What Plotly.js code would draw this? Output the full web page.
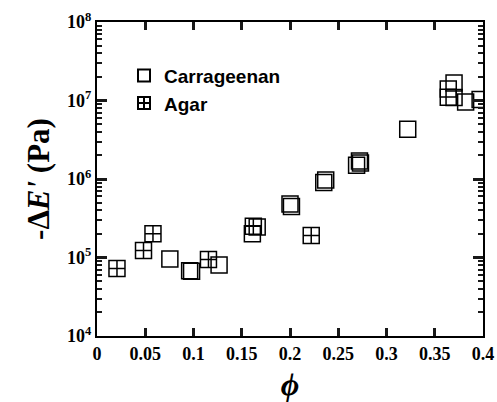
<!DOCTYPE html>
<html>
<head>
<meta charset="utf-8">
<script src="https://cdn.plot.ly/plotly-3.0.1.min.js"></script>
<style>html,body{margin:0;padding:0;background:#fff;}#chart{width:497px;height:402px;}</style>
</head>
<body>
<div id="chart"></div>
<script>
const carrageenanPhi = [0.0755, 0.096, 0.098, 0.1265, 0.161, 0.166, 0.200, 0.2015, 0.235, 0.237, 0.269, 0.272, 0.273, 0.322, 0.364, 0.364, 0.370, 0.370, 0.382, 0.397];
const carrageenanE   = [9.6e4, 6.8e4, 6.7e4, 8.0e4, 2.0e5, 2.45e5, 4.8e5, 4.45e5, 9.0e5, 9.7e5, 1.5e6, 1.7e6, 1.6e6, 4.3e6, 1.4e7, 1.1e7, 1.67e7, 1.09e7, 9.6e6, 1.03e7];
const agarPhi = [0.0207, 0.0482, 0.058, 0.1155, 0.162, 0.222];
const agarE   = [7.25e4, 1.23e5, 2.0e5, 9.4e4, 2.5e5, 1.91e5];
const xTickVals = [0, 0.05, 0.1, 0.15, 0.2, 0.25, 0.3, 0.35, 0.4];
const xTickText = ['0', '0.05', '0.1', '0.15', '0.2', '0.25', '0.3', '0.35', '0.4'];
const yDecades = [1e4, 1e5, 1e6, 1e7, 1e8];
const yTickText = ['10<sup>4</sup>', '10<sup>5</sup>', '10<sup>6</sup>', '10<sup>7</sup>', '10<sup>8</sup>'];

const serif = 'Liberation Serif, Times New Roman, serif';
const sans = 'Liberation Sans, Arial, sans-serif';
const tickCol = 'rgb(25,25,25)';

const traces = [
  {x: carrageenanPhi, y: carrageenanE, name: 'Carrageenan', mode: 'markers', type: 'scatter',
   marker: {symbol: 'square-open', size: 16, color: 'black', line: {width: 1.5, color: 'black'}}},
  {x: agarPhi, y: agarE, name: 'Agar', mode: 'markers', type: 'scatter',
   marker: {symbol: 'square-cross-open', size: 16, color: 'black', line: {width: 1.5, color: 'black'}}}
];

const layout = {
  width: 497, height: 402,
  margin: {l: 97, r: 14, t: 22, b: 66},
  paper_bgcolor: 'white', plot_bgcolor: 'white',
  showlegend: true,
  legend: {x: 0.07, y: 0.89, xanchor: 'left', yanchor: 'top', bgcolor: 'rgba(0,0,0,0)',
           font: {family: sans, size: 19, weight: 'bold', color: 'black'}, itemsizing: 'constant',
           tracegroupgap: 0, itemwidth: 30},
  xaxis: {
    range: [0, 0.4], tickvals: xTickVals, ticktext: xTickText,
    ticks: 'inside', ticklen: 8, tickwidth: 2.5, tickcolor: tickCol,
    showline: true, linewidth: 2, linecolor: 'black', mirror: 'ticks',
    showgrid: false, zeroline: false,
    tickfont: {family: serif, size: 18, weight: 'bold', color: 'black'},
    title: {text: '<i>ϕ</i>', font: {family: serif, size: 32, weight: 'bold', color: 'black'}, standoff: 10}
  },
  yaxis: {
    type: 'log', range: [4, 8], tickvals: yDecades, ticktext: yTickText,
    ticks: 'inside', ticklen: 10, tickwidth: 2.5, tickcolor: tickCol,
    minor: {dtick: 'D1', ticks: 'inside', ticklen: 5, tickwidth: 2, tickcolor: tickCol, showgrid: false},
    showline: true, linewidth: 2, linecolor: 'black', mirror: 'ticks',
    showgrid: false, zeroline: false,
    tickfont: {family: serif, size: 18, weight: 'bold', color: 'black'},
    title: {text: '-Δ<i>E\'</i> (Pa)', font: {family: serif, size: 31, weight: 'bold', color: 'black'}, standoff: 8}
  }
};

Plotly.newPlot('chart', traces, layout, {displayModeBar: false});
</script>
</body>
</html>
